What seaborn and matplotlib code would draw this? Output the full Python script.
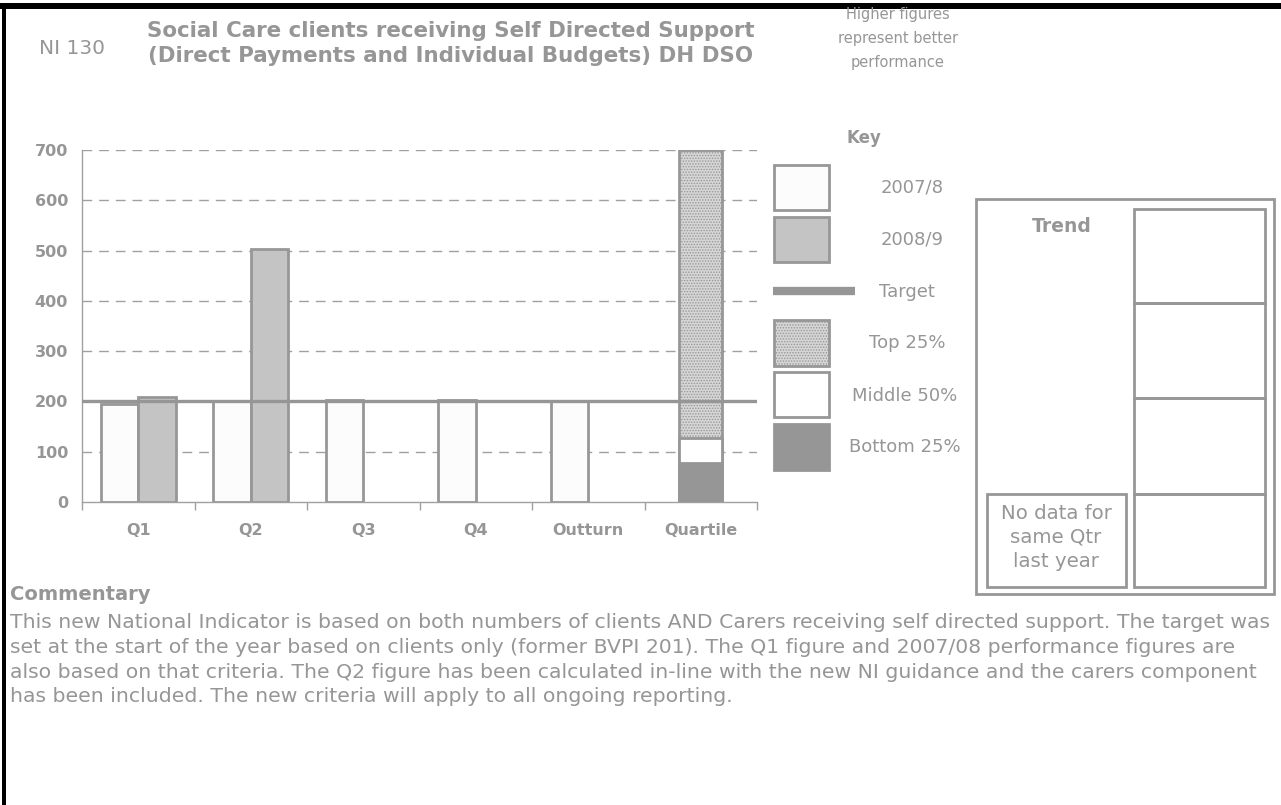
import numpy as np
import pandas as pd
import matplotlib
matplotlib.use("Agg")
import matplotlib.pyplot as plt
from matplotlib.patches import Rectangle
from matplotlib.lines import Line2D
import seaborn as sns

# ---------------- data ----------------
categories = ["Q1", "Q2", "Q3", "Q4", "Outturn", "Quartile"]
years = ["2007/8", "2008/9"]
values_2007 = [195, 201, 203, 203, 201]          # Q1..Outturn
values_2008 = [208, 504]                          # Q1, Q2
target = 200
quartile_bottom = 78       # bottom 25% upper bound
quartile_middle = 127      # middle 50% upper bound
quartile_top = 700         # top 25% upper bound
y_ticks = [0, 100, 200, 300, 400, 500, 600, 700]
key_labels = ["2007/8", "2008/9", "Target", "Top 25%", "Middle 50%", "Bottom 25%"]

commentary = [
    "This new National Indicator is based on both numbers of clients AND Carers receiving self directed support. The target was",
    "set at the start of the year based on clients only (former BVPI 201). The Q1 figure and 2007/08 performance figures are",
    "also based on that criteria. The Q2 figure has been calculated in-line with the new NI guidance and the carers component",
    "has been included. The new criteria will apply to all ongoing reporting.",
]

# ---------------- style ----------------
sns.set_theme(style="white")
plt.rcParams["font.family"] = ["DejaVu Sans"]
plt.rcParams["hatch.color"] = "#8a8a8a"
plt.rcParams["hatch.linewidth"] = 0.7
GRAY = "#969696"
EDGE = "#979797"
TOPFILL = "#d6d6d6"
W, H = 1281, 805

fig = plt.figure(figsize=(W / 100, H / 100), dpi=100)
fig.patch.set_facecolor("white")


def fx(x):
    return x / W


def fy(y):
    return 1 - y / H


ax = fig.add_axes([fx(82), fy(502), fx(757) - fx(82), fy(150) - fy(502)])

rows = []
for c, v in zip(categories, values_2007):
    rows.append({"Period": c, "Year": years[0], "Value": v})
for c, v in zip(categories, values_2008):
    rows.append({"Period": c, "Year": years[1], "Value": v})
df = pd.DataFrame(rows)

sns.barplot(data=df, x="Period", y="Value", hue="Year", order=categories,
            hue_order=years, palette={years[0]: "#fcfcfc", years[1]: "#c4c4c4"},
            width=0.667, edgecolor=EDGE, linewidth=2, legend=False, ax=ax,
            errorbar=None, zorder=3)

# quartile stacked bar (drawn tallest first)
qdf = pd.DataFrame({"Period": ["Quartile"], "Top": [quartile_top],
                    "Mid": [quartile_middle], "Bot": [quartile_bottom]})
sns.barplot(data=qdf, x="Period", y="Top", order=categories, color=TOPFILL,
            width=0.385, edgecolor=EDGE, linewidth=2, hatch="......",
            ax=ax, errorbar=None, zorder=3, saturation=1)
sns.barplot(data=qdf, x="Period", y="Mid", order=categories, color="white",
            width=0.385, edgecolor=EDGE, linewidth=2, ax=ax, errorbar=None,
            zorder=3, saturation=1)
sns.barplot(data=qdf, x="Period", y="Bot", order=categories, color=GRAY,
            width=0.385, edgecolor=GRAY, linewidth=2, ax=ax, errorbar=None,
            zorder=3, saturation=1)

ax.axhline(target, color=GRAY, lw=2.4, zorder=5)

ax.set_xlim(-0.5, len(categories) - 0.5)
ax.set_ylim(0, 700)
ax.set_yticks(y_ticks)
ax.set_xlabel("")
ax.set_ylabel("")
for y in y_ticks[1:]:
    ax.axhline(y, color="#a0a0a0", lw=1, dashes=(7, 5), zorder=1)

for s in ["top", "right"]:
    ax.spines[s].set_visible(False)
for s in ["left", "bottom"]:
    ax.spines[s].set_color("#a0a0a0")
    ax.spines[s].set_linewidth(1)
ax.set_xticks(np.arange(-0.5, len(categories)), minor=True)
ax.tick_params(axis="x", which="major", length=0, pad=15, labelsize=11.5,
               labelcolor=GRAY)
ax.tick_params(axis="x", which="minor", length=6, color="#a0a0a0", width=1,
               direction="out", bottom=True)
ax.tick_params(axis="y", length=0, pad=10, labelsize=11.5, labelcolor=GRAY)
for lab in ax.get_xticklabels() + ax.get_yticklabels():
    lab.set_fontweight("bold")

# ---------------- frame ----------------
fig.add_artist(Rectangle((0, fy(9)), 1, fy(3) - fy(9), transform=fig.transFigure,
                         facecolor="black", edgecolor="none"))
fig.add_artist(Rectangle((fx(2), 0), fx(4), fy(3), transform=fig.transFigure,
                         facecolor="black", edgecolor="none"))

# ---------------- header ----------------
fig.text(fx(72), fy(48), "NI 130", ha="center", va="center", fontsize=14.5, color=GRAY)
fig.text(fx(451), fy(31), "Social Care clients receiving Self Directed Support",
         ha="center", va="center", fontsize=15.4, fontweight="bold", color=GRAY)
fig.text(fx(451), fy(56), "(Direct Payments and Individual Budgets) DH DSO",
         ha="center", va="center", fontsize=15.4, fontweight="bold", color=GRAY)
for t, y in zip(["Higher figures", "represent better", "performance"], [15, 39, 62]):
    fig.text(fx(898), fy(y), t, ha="center", va="center", fontsize=10.5, color=GRAY)

# ---------------- key ----------------
fig.text(fx(864), fy(138), "Key", ha="center", va="center", fontsize=12,
         fontweight="bold", color=GRAY)
key_boxes = [
    (165, 210, "#fcfcfc", EDGE, None),
    (217, 262, "#c4c4c4", EDGE, None),
    None,
    (320, 366, TOPFILL, EDGE, "......"),
    (372, 417, "white", EDGE, None),
    (424, 470, GRAY, GRAY, None),
]
key_text_y = [188, 240, 292, 343, 396, 447]
key_text_x = [912, 912, 907, 907, 905, 905]
for box, lab, ty, tx in zip(key_boxes, key_labels, key_text_y, key_text_x):
    if box is None:
        fig.add_artist(Line2D([fx(773), fx(855)], [fy(291), fy(291)],
                              transform=fig.transFigure, color=GRAY, lw=6,
                              solid_capstyle="butt"))
    else:
        y0, y1, fc, ec, hatch = box
        fig.add_artist(Rectangle((fx(774), fy(y1)), fx(829) - fx(774), fy(y0) - fy(y1),
                                 transform=fig.transFigure, facecolor=fc,
                                 edgecolor=ec, lw=2, hatch=hatch))
    fig.text(fx(tx), fy(ty), lab, ha="center", va="center", fontsize=13, color=GRAY)

# ---------------- trend panel ----------------
def box(x0, y0, x1, y1, lw=2):
    fig.add_artist(Rectangle((fx(x0), fy(y1)), fx(x1) - fx(x0), fy(y0) - fy(y1),
                             transform=fig.transFigure, facecolor="none",
                             edgecolor=EDGE, lw=lw))

box(976, 199, 1274, 594)
for y0, y1 in [(209, 303), (303, 398), (398, 494), (494, 587)]:
    box(1134, y0, 1265, y1)
box(987, 494, 1126, 587)
fig.text(fx(1062), fy(226), "Trend", ha="center", va="center", fontsize=13.5,
         fontweight="bold", color=GRAY)
for t, y in zip(["No data for", "same Qtr", "last year"], [513, 537, 561]):
    fig.text(fx(1056), fy(y), t, ha="center", va="center", fontsize=14.2, color=GRAY)

# ---------------- commentary ----------------
fig.text(fx(10), fy(595), "Commentary", ha="left", va="center", fontsize=14,
         fontweight="bold", color=GRAY)
for t, y in zip(commentary, [622, 647, 672, 696]):
    fig.text(fx(10), fy(y), t, ha="left", va="center", fontsize=14.7, color=GRAY)

fig.savefig("out.png", dpi=100)
